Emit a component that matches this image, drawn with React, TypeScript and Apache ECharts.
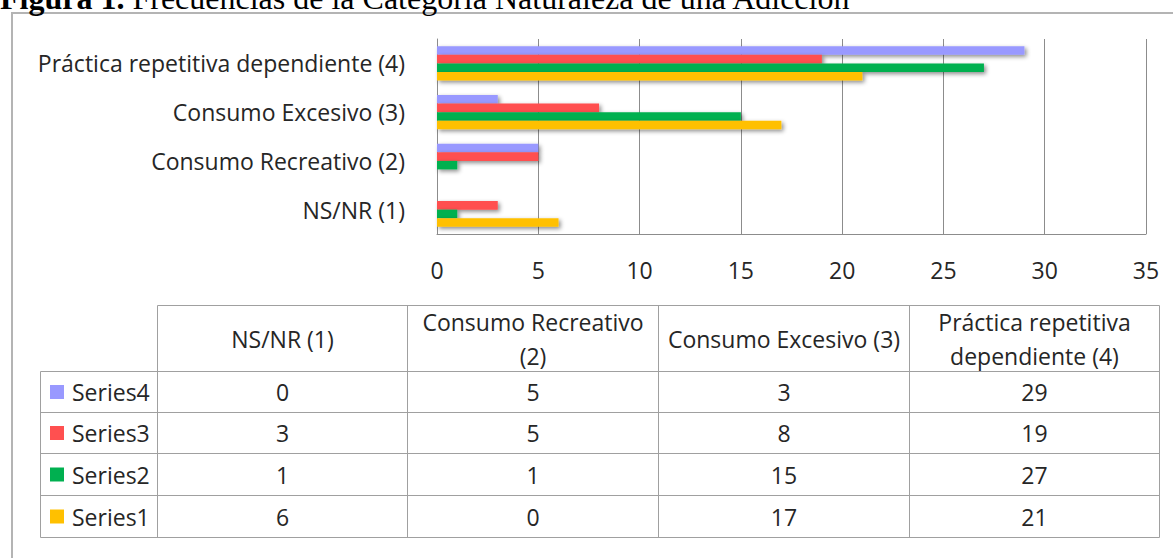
import React, { useEffect, useRef } from "react";
import * as echarts from "echarts";

const categories = [
  "NS/NR (1)",
  "Consumo Recreativo (2)",
  "Consumo Excesivo (3)",
  "Práctica repetitiva dependiente (4)",
];
const tableHeaders = [
  "NS/NR (1)",
  "Consumo Recreativo\n(2)",
  "Consumo Excesivo (3)",
  "Práctica repetitiva\ndependiente (4)",
];
const series1 = [6, 0, 17, 21];
const series2 = [1, 1, 15, 27];
const series3 = [3, 5, 8, 19];
const series4 = [0, 5, 3, 29];
const seriesNames = ["Series1", "Series2", "Series3", "Series4"];
const seriesColors = ["#FFC000", "#00B050", "#FF5050", "#9999FF"];
const xMin = 0;
const xMax = 35;
const xInterval = 5;
const titleBold = "Figura 1.";
const titleRest = " Frecuencias de la Categoría Naturaleza de una Adicción";

const FONT = "'Open Sans', sans-serif";
const FS = 23;
const TXT = "#262626";
const GRID_C = "#8c8c8c";
const TAB_C = "#a0a0a0";

export default function App() {
  const ref = useRef<HTMLDivElement>(null);
  useEffect(() => {
    if (!ref.current) return;
    const chart = echarts.init(ref.current, null, { renderer: "svg" });
    const allSeries = [series1, series2, series3, series4];

    // table geometry
    const colX = [40.5, 157.5, 407.5, 658.5, 909.5, 1159.5];
    const rowY = [305.5, 371.5, 412.5, 453.5, 495.5, 537.5];
    const els: any[] = [];
    // outer frame
    els.push({
      type: "rect",
      shape: { x: 12, y: 13, width: 1300, height: 700 },
      style: { fill: "none", stroke: "#b4b4b4", lineWidth: 2 },
      z: 1,
    });
    // title (only its lower part is inside the picture)
    els.push({
      type: "text",
      x: 0,
      y: -2,
      style: {
        text: "{b|" + titleBold + "}{n|" + titleRest + "}",
        verticalAlign: "middle",
        rich: {
          b: { fontFamily: "'Liberation Serif', 'Times New Roman', serif", fontWeight: "bold", fontSize: 32, fill: "#000" },
          n: { fontFamily: "'Liberation Serif', 'Times New Roman', serif", fontSize: 32, fill: "#000" },
        },
      },
      z: 5,
    });
    // table lines
    els.push({ type: "line", shape: { x1: colX[1], y1: rowY[0], x2: colX[5], y2: rowY[0] }, style: { stroke: TAB_C, lineWidth: 1 } });
    for (let r = 1; r < rowY.length; r++) {
      els.push({ type: "line", shape: { x1: colX[0], y1: rowY[r], x2: colX[5], y2: rowY[r] }, style: { stroke: TAB_C, lineWidth: 1 } });
    }
    els.push({ type: "line", shape: { x1: colX[0], y1: rowY[1], x2: colX[0], y2: rowY[5] }, style: { stroke: TAB_C, lineWidth: 1 } });
    for (let c = 1; c < colX.length; c++) {
      els.push({ type: "line", shape: { x1: colX[c], y1: rowY[0], x2: colX[c], y2: rowY[5] }, style: { stroke: TAB_C, lineWidth: 1 } });
    }
    // headers
    tableHeaders.forEach((h, i) => {
      els.push({
        type: "text",
        x: (colX[i + 1] + colX[i + 2]) / 2,
        y: (rowY[0] + rowY[1]) / 2,
        style: { text: h, fontFamily: FONT, fontSize: FS, fill: TXT, align: "center", verticalAlign: "middle", lineHeight: 34 },
      });
    });
    // rows: Series4 first
    const order = [3, 2, 1, 0];
    order.forEach((si, r) => {
      const cy = (rowY[r + 1] + rowY[r + 2]) / 2;
      els.push({ type: "rect", shape: { x: 50, y: cy - 7, width: 14, height: 14 }, style: { fill: seriesColors[si] } });
      els.push({
        type: "text",
        x: 72,
        y: cy,
        style: { text: seriesNames[si], fontFamily: FONT, fontSize: FS, fill: TXT, align: "left", verticalAlign: "middle" },
      });
      allSeries[si].forEach((v, c) => {
        els.push({
          type: "text",
          x: (colX[c + 1] + colX[c + 2]) / 2,
          y: cy,
          style: { text: String(v), fontFamily: FONT, fontSize: FS, fill: TXT, align: "center", verticalAlign: "middle" },
        });
      });
    });

    chart.setOption({
      animation: false,
      backgroundColor: "#ffffff",
      grid: { left: 437, top: 39, width: 709, height: 195, containLabel: false },
      xAxis: {
        type: "value",
        min: xMin,
        max: xMax,
        interval: xInterval,
        axisLine: { show: true, lineStyle: { color: GRID_C, width: 1 } },
        axisTick: { show: false },
        splitLine: { show: true, lineStyle: { color: GRID_C, width: 1 } },
        axisLabel: { fontFamily: FONT, fontSize: FS, color: TXT, margin: 24 },
      },
      yAxis: {
        type: "category",
        data: categories,
        axisLine: { show: true, lineStyle: { color: GRID_C, width: 1 } },
        axisTick: { show: false },
        axisLabel: { fontFamily: FONT, fontSize: FS, color: TXT, margin: 32 },
      },
      // Series4 first so that it sits at the top of each group
      series: order.map((si) => ({
        type: "bar",
        name: seriesNames[si],
        data: allSeries[si],
        barGap: "0%",
        barCategoryGap: "30%",
        itemStyle: {
          color: seriesColors[si],
          shadowBlur: 4,
          shadowColor: "rgba(0,0,0,0.45)",
          shadowOffsetX: 2,
          shadowOffsetY: 2,
        },
      })),
      graphic: { elements: els },
    });
    return () => chart.dispose();
  }, []);
  return (
    <div
      ref={ref}
      style={{ position: "fixed", left: 0, top: 0, width: 1173, height: 558, background: "#fff" }}
    />
  );
}
